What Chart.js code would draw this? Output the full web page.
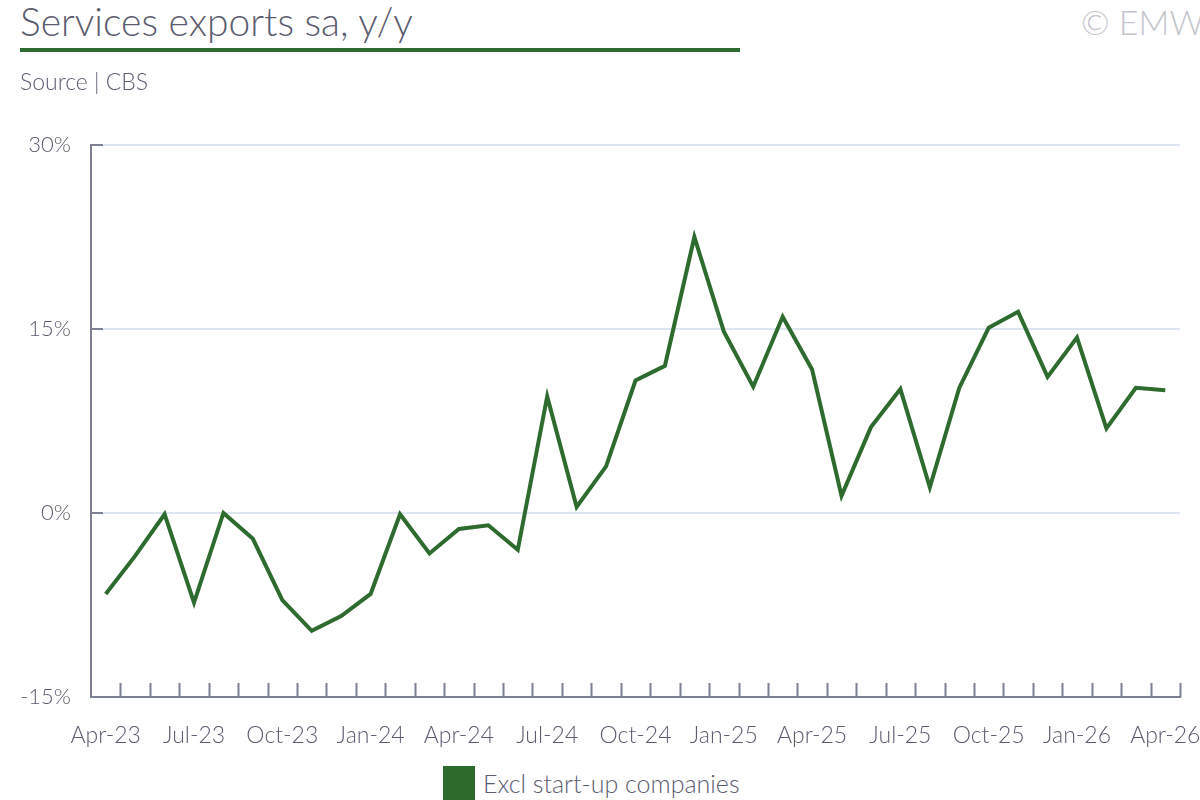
<!DOCTYPE html>
<html>
<head>
<meta charset="utf-8">
<script src="https://cdn.jsdelivr.net/npm/chart.js@4.4.1/dist/chart.umd.min.js"></script>
<style>
  html, body { margin: 0; padding: 0; background: #fff; }
  body { width: 1200px; height: 800px; position: relative; overflow: hidden; font-family: Lato, "Open Sans", sans-serif; color: #5b5c70; }
  #title { position: absolute; left: 20px; top: -2px; font-size: 39px; font-weight: 300; line-height: 46px; white-space: nowrap; }
  #rule { position: absolute; left: 20px; top: 48px; width: 720px; height: 4px; background: #2e6b2e; }
  #source { position: absolute; left: 20px; top: 67px; font-size: 23px; font-weight: 300; will-change: transform; }
  #copy { position: absolute; right: -4px; top: 0px; font-size: 34px; font-weight: 300; line-height: 44px; color: #c4c5cc; }
  #legend { position: absolute; left: 443px; top: 766px; height: 34px; display: flex; align-items: center; font-size: 25px; font-weight: 300; }
  #legend i { display: inline-block; width: 32px; height: 34px; background: #2d6a2d; margin-right: 8px; }
  #wrap { position: absolute; left: 0; top: 0; width: 1200px; height: 760px; }
</style>
</head>
<body>
<div id="title">Services exports sa, y/y</div>
<div id="rule"></div>
<div id="source">Source | CBS</div>
<div id="copy">© EMW</div>
<div id="wrap"><canvas id="chart"></canvas></div>
<div id="legend"><i></i>Excl start-up companies</div>
<script>
const months = [
  "Apr-23", "May-23", "Jun-23", "Jul-23", "Aug-23", "Sep-23", "Oct-23", "Nov-23", "Dec-23",
  "Jan-24", "Feb-24", "Mar-24", "Apr-24", "May-24", "Jun-24", "Jul-24", "Aug-24", "Sep-24",
  "Oct-24", "Nov-24", "Dec-24", "Jan-25", "Feb-25", "Mar-25", "Apr-25", "May-25", "Jun-25",
  "Jul-25", "Aug-25", "Sep-25", "Oct-25", "Nov-25", "Dec-25", "Jan-26", "Feb-26", "Mar-26", "Apr-26"
];

const exclStartups = [
  -6.6, -3.5, -0.1, -7.3, 0.0, -2.1, -7.1, -9.6, -8.4,
  -6.6, -0.1, -3.3, -1.3, -1.0, -3.0, 9.5, 0.5, 3.8,
  10.8, 12.0, 22.5, 14.8, 10.3, 16.0, 11.7, 1.4, 7.0,
  10.1, 2.1, 10.2, 15.1, 16.4, 11.1, 14.3, 6.9, 10.2, 10.0
];

const yTicks = [-15, 0, 15, 30];

const textColor = "#5b5c70";
const axisColor = "#7b8093";
const gridColor = "#dde6f0";
const green = "#2e6b2e";

// inward tick marks on both axes
const innerTicks = {
  id: "innerTicks",
  afterDraw(chart) {
    const { ctx, chartArea, scales } = chart;
    const x = scales.x;
    const y = scales.y;
    const step = x.getPixelForValue(1) - x.getPixelForValue(0);
    ctx.save();
    ctx.strokeStyle = axisColor;
    ctx.lineWidth = 2;
    ctx.beginPath();
    for (let i = 1; i <= months.length; i++) {
      const px = Math.round(x.getPixelForValue(i) - step / 2) + 0.5;
      ctx.moveTo(px, chartArea.bottom);
      ctx.lineTo(px, chartArea.bottom - 14);
    }
    yTicks.forEach(v => {
      if (v === -15) return;
      const py = Math.round(y.getPixelForValue(v));
      ctx.moveTo(chartArea.left, py);
      ctx.lineTo(chartArea.left + 12, py);
    });
    ctx.stroke();
    ctx.restore();
  }
};

new Chart(document.getElementById("chart"), {
  type: "line",
  data: {
    labels: months,
    datasets: [{
      label: "Excl start-up companies",
      data: exclStartups,
      borderColor: green,
      backgroundColor: green,
      borderWidth: 4,
      pointRadius: 0,
      tension: 0
    }]
  },
  options: {
    responsive: true,
    maintainAspectRatio: false,
    animation: false,
    layout: { padding: { top: 145, right: 20, left: 0, bottom: 0 } },
    plugins: { legend: { display: false }, tooltip: { enabled: false } },
    scales: {
      x: {
        offset: true,
        grid: { display: false, offset: true },
        border: { color: axisColor, width: 2 },
        ticks: {
          autoSkip: false,
          maxRotation: 0,
          color: textColor,
          padding: 17,
          font: { family: "Lato", size: 23, weight: 300 },
          callback: (v, i) => (i % 3 === 0 ? months[i] : "")
        },
        afterFit: s => { s.height = 63; s.paddingLeft = 0; s.paddingRight = 0; }
      },
      y: {
        min: -15,
        max: 30,
        afterBuildTicks: s => { s.ticks = yTicks.map(v => ({ value: v })); },
        grid: { color: gridColor, lineWidth: 2, drawTicks: false },
        border: { color: axisColor, width: 2 },
        ticks: {
          color: textColor,
          padding: 20,
          font: { family: "Lato", size: 22, weight: 300 },
          callback: v => v + "%"
        },
        afterFit: s => { s.width = 91; s.paddingTop = 0; s.paddingBottom = 0; }
      }
    }
  },
  plugins: [innerTicks]
});
</script>
</body>
</html>
